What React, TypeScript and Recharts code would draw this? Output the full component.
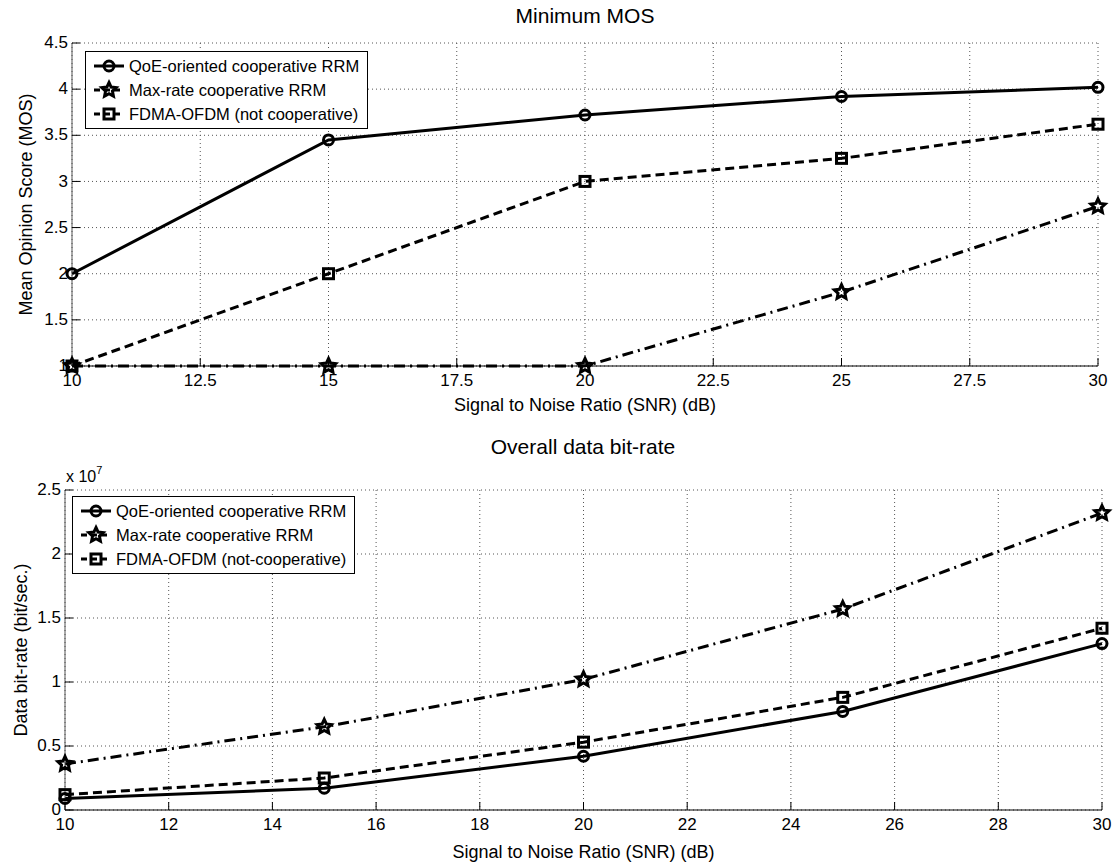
import { LineChart, Line, XAxis, YAxis, CartesianGrid, Legend, Label } from 'recharts';

// SNR points (dB)
const snr = [10, 15, 20, 25, 30];

// Minimum MOS
const mosQoe = [2.0, 3.45, 3.72, 3.92, 4.02];
const mosMaxRate = [1.0, 1.0, 1.0, 1.8, 2.73];
const mosFdma = [1.0, 2.0, 3.0, 3.25, 3.62];

// Overall data bit-rate (bit/sec.)
const rateQoe = [0.09e7, 0.17e7, 0.42e7, 0.77e7, 1.3e7];
const rateMaxRate = [0.36e7, 0.65e7, 1.02e7, 1.57e7, 2.32e7];
const rateFdma = [0.12e7, 0.25e7, 0.53e7, 0.88e7, 1.42e7];

const mosTicks = [1, 1.5, 2, 2.5, 3, 3.5, 4, 4.5];
const snrTicksTop = [10, 12.5, 15, 17.5, 20, 22.5, 25, 27.5, 30];
const rateTicks = [0, 0.5e7, 1e7, 1.5e7, 2e7, 2.5e7];
const snrTicksBottom = [10, 12, 14, 16, 18, 20, 22, 24, 26, 28, 30];

const mosLabels = ['QoE-oriented cooperative RRM', 'Max-rate cooperative RRM', 'FDMA-OFDM (not cooperative)'];
const rateLabels = ['QoE-oriented cooperative RRM', 'Max-rate cooperative RRM', 'FDMA-OFDM (not-cooperative)'];

const series = [
  { key: 'qoe', marker: 'circle', dash: undefined },
  { key: 'max', marker: 'star', dash: '11 5 2 5' },
  { key: 'fdma', marker: 'square', dash: '9 5' },
];

const mosData = snr.map((s, i) => ({ snr: s, qoe: mosQoe[i], max: mosMaxRate[i], fdma: mosFdma[i] }));
const rateData = snr.map((s, i) => ({ snr: s, qoe: rateQoe[i], max: rateMaxRate[i], fdma: rateFdma[i] }));

const FONT = '"Liberation Sans", Arial, sans-serif';
const GRID = '#555';

const Marker = ({ cx, cy, shape }: any) => {
  if (cx == null || cy == null) return null;
  const sw = 3;
  if (shape === 'circle') {
    return <circle cx={cx} cy={cy} r={5} fill="none" stroke="#000" strokeWidth={sw} strokeDasharray="none" />;
  }
  if (shape === 'square') {
    return <rect x={cx - 5} y={cy - 5} width={10} height={10} fill="none" stroke="#000" strokeWidth={sw} strokeDasharray="none" />;
  }
  const pts: string[] = [];
  for (let k = 0; k < 10; k++) {
    const r = k % 2 === 0 ? 7.5 : 3.6;
    const a = -Math.PI / 2 + (k * Math.PI) / 5;
    pts.push(`${cx + r * Math.cos(a)},${cy + r * Math.sin(a)}`);
  }
  return <polygon points={pts.join(' ')} fill="none" stroke="#000" strokeWidth={sw} strokeDasharray="none" />;
};

const BottomTick = ({ x, y, payload, fmt }: any) => (
  <g>
    <line x1={x} y1={y} x2={x} y2={y - 8} stroke="#000" />
    <text x={x} y={y + 20} textAnchor="middle" fontSize={17} fontFamily={FONT} fill="#000">
      {fmt(payload.value)}
    </text>
  </g>
);

const TopTick = ({ x, y }: any) => <line x1={x} y1={y} x2={x} y2={y + 8} stroke="#000" />;

const LeftTick = ({ x, y, payload, fmt }: any) => (
  <g>
    <line x1={x} y1={y} x2={x + 8} y2={y} stroke="#000" />
    <text x={x - 4} y={y} dy="0.3em" textAnchor="end" fontSize={17} fontFamily={FONT} fill="#000">
      {fmt(payload.value)}
    </text>
  </g>
);

const RightTick = ({ x, y }: any) => <line x1={x} y1={y} x2={x - 8} y2={y} stroke="#000" />;

const LegendBox = ({ labels }: { labels: string[] }) => (
  <div
    style={{
      border: '1px solid #000',
      background: '#fff',
      padding: '2px 8px 2px 4px',
      fontSize: 16.5,
      lineHeight: '24px',
      fontFamily: FONT,
      color: '#000',
    }}
  >
    {series.map((s, i) => (
      <div key={s.key} style={{ display: 'flex', alignItems: 'center', whiteSpace: 'nowrap' }}>
        <svg width={38} height={24}>
          <line x1={4} y1={12} x2={34} y2={12} stroke="#000" strokeWidth={3} strokeDasharray={s.dash ? '6 4' : undefined} />
          <Marker cx={19} cy={12} shape={s.marker} />
        </svg>
        <span style={{ marginLeft: 1 }}>{labels[i]}</span>
      </div>
    ))}
  </div>
);

const fmtPlain = (v: number) => String(v);
const fmtRate = (v: number) => String(v / 1e7);

export default function App() {
  return (
    <div
      style={{
        position: 'absolute',
        left: 0,
        top: 0,
        width: 1116,
        height: 864,
        background: '#fff',
        fontFamily: FONT,
      }}
    >
      {/* Minimum MOS */}
      <div style={{ position: 'absolute', left: 0, top: 0 }}>
        <LineChart width={1116} height={430} data={mosData} margin={{ top: 43, right: 18, left: 32, bottom: 24 }}>
          <CartesianGrid stroke={GRID} strokeDasharray="1 3" />
          <XAxis
            dataKey="snr"
            type="number"
            domain={[10, 30]}
            ticks={snrTicksTop}
            interval={0}
            height={40}
            tickSize={0}
            tickMargin={0}
            tickLine={false}
            axisLine={{ stroke: '#000' }}
            tick={(p: any) => <BottomTick {...p} fmt={fmtPlain} />}
          >
            <Label
              content={({ viewBox }: any) => (
                <text x={viewBox.x + viewBox.width / 2} y={viewBox.y + 45} textAnchor="middle" fontSize={18} fontFamily={FONT}>
                  Signal to Noise Ratio (SNR) (dB)
                </text>
              )}
            />
          </XAxis>
          <XAxis
            xAxisId="top"
            orientation="top"
            dataKey="snr"
            type="number"
            domain={[10, 30]}
            ticks={snrTicksTop}
            interval={0}
            height={0}
            tickSize={0}
            tickMargin={0}
            tickLine={false}
            axisLine={{ stroke: '#000' }}
            tick={(p: any) => <TopTick {...p} />}
          />
          <YAxis
            type="number"
            domain={[1, 4.5]}
            ticks={mosTicks}
            interval={0}
            width={40}
            tickSize={0}
            tickMargin={0}
            tickLine={false}
            axisLine={{ stroke: '#555' }}
            tick={(p: any) => <LeftTick {...p} fmt={fmtPlain} />}
          >
            <Label
              content={({ viewBox }: any) => (
                <g>
                  <text
                    transform={`translate(${viewBox.x - 6},${viewBox.y + viewBox.height / 2}) rotate(-90)`}
                    dy="0.35em"
                    textAnchor="middle"
                    fontSize={18}
                    fontFamily={FONT}
                  >
                    Mean Opinion Score (MOS)
                  </text>
                  <text x={585} y={viewBox.y - 20} textAnchor="middle" fontSize={21} fontFamily={FONT}>
                    Minimum MOS
                  </text>
                </g>
              )}
            />
          </YAxis>
          <YAxis
            yAxisId="right"
            orientation="right"
            type="number"
            domain={[1, 4.5]}
            ticks={mosTicks}
            interval={0}
            width={0}
            tickSize={0}
            tickMargin={0}
            tickLine={false}
            axisLine={{ stroke: '#555' }}
            tick={(p: any) => <RightTick {...p} />}
          />
          <Legend
            layout="vertical"
            align="center"
            verticalAlign="middle"
            wrapperStyle={{ left: 85, top: 51 }}
            content={() => <LegendBox labels={mosLabels} />}
          />
          {series.map((s) => (
            <Line
              key={s.key}
              dataKey={s.key}
              stroke="#000"
              strokeWidth={3}
              strokeDasharray={s.dash}
              isAnimationActive={false}
              dot={(p: any) => <Marker key={`${s.key}-${p.index}`} cx={p.cx} cy={p.cy} shape={s.marker} />}
              activeDot={false}
            />
          ))}
        </LineChart>
      </div>

      {/* Overall data bit-rate */}
      <div style={{ position: 'absolute', left: 0, top: 430 }}>
        <LineChart width={1116} height={434} data={rateData} margin={{ top: 60, right: 14, left: 25, bottom: 14 }}>
          <CartesianGrid stroke={GRID} strokeDasharray="1 3" />
          <XAxis
            dataKey="snr"
            type="number"
            domain={[10, 30]}
            ticks={snrTicksBottom}
            interval={0}
            height={40}
            tickSize={0}
            tickMargin={0}
            tickLine={false}
            axisLine={{ stroke: '#000' }}
            tick={(p: any) => <BottomTick {...p} fmt={fmtPlain} />}
          >
            <Label
              content={({ viewBox }: any) => (
                <text x={viewBox.x + viewBox.width / 2} y={viewBox.y + 48} textAnchor="middle" fontSize={18} fontFamily={FONT}>
                  Signal to Noise Ratio (SNR) (dB)
                </text>
              )}
            />
          </XAxis>
          <XAxis
            xAxisId="top"
            orientation="top"
            dataKey="snr"
            type="number"
            domain={[10, 30]}
            ticks={snrTicksBottom}
            interval={0}
            height={0}
            tickSize={0}
            tickMargin={0}
            tickLine={false}
            axisLine={{ stroke: '#000' }}
            tick={(p: any) => <TopTick {...p} />}
          />
          <YAxis
            type="number"
            domain={[0, 2.5e7]}
            ticks={rateTicks}
            interval={0}
            width={40}
            tickSize={0}
            tickMargin={0}
            tickLine={false}
            axisLine={{ stroke: '#555' }}
            tick={(p: any) => <LeftTick {...p} fmt={fmtRate} />}
          >
            <Label
              content={({ viewBox }: any) => (
                <g>
                  <text
                    transform={`translate(${viewBox.x - 4},${viewBox.y + viewBox.height / 2}) rotate(-90)`}
                    dy="0.35em"
                    textAnchor="middle"
                    fontSize={18}
                    fontFamily={FONT}
                  >
                    Data bit-rate (bit/sec.)
                  </text>
                  <text x={583} y={viewBox.y - 36} textAnchor="middle" fontSize={21} fontFamily={FONT}>
                    Overall data bit-rate
                  </text>
                  <text x={viewBox.x + viewBox.width + 1} y={viewBox.y - 8} fontSize={16} fontFamily={FONT}>
                    x 10
                    <tspan dy={-8} fontSize={11}>7</tspan>
                  </text>
                </g>
              )}
            />
          </YAxis>
          <YAxis
            yAxisId="right"
            orientation="right"
            type="number"
            domain={[0, 2.5e7]}
            ticks={rateTicks}
            interval={0}
            width={0}
            tickSize={0}
            tickMargin={0}
            tickLine={false}
            axisLine={{ stroke: '#555' }}
            tick={(p: any) => <RightTick {...p} />}
          />
          <Legend
            layout="vertical"
            align="center"
            verticalAlign="middle"
            wrapperStyle={{ left: 72, top: 66 }}
            content={() => <LegendBox labels={rateLabels} />}
          />
          {series.map((s) => (
            <Line
              key={s.key}
              dataKey={s.key}
              stroke="#000"
              strokeWidth={3}
              strokeDasharray={s.dash}
              isAnimationActive={false}
              dot={(p: any) => <Marker key={`${s.key}-${p.index}`} cx={p.cx} cy={p.cy} shape={s.marker} />}
              activeDot={false}
            />
          ))}
        </LineChart>
      </div>
    </div>
  );
}
